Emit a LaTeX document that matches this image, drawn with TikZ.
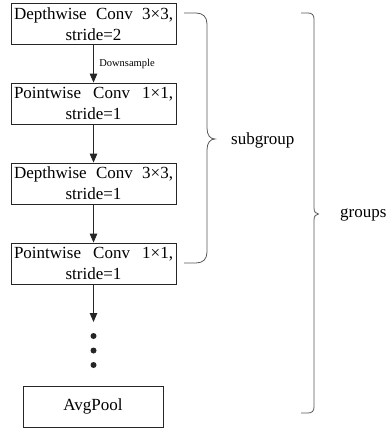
\documentclass[tikz,border=0pt]{standalone}
\usepackage{fontspec}
\setmainfont{Liberation Serif}
\usetikzlibrary{arrows.meta}
\tikzset{
  layer/.style={draw=black!85, line width=0.8pt, minimum width=165pt, minimum height=41pt,
    inner sep=0pt, align=center, font=\fontsize{17}{21}\selectfont},
  flow/.style={draw=black!85, line width=0.9pt, -{Triangle[length=9pt,width=7.5pt]}},
  bracket/.style={draw=black!65, line width=0.8pt},
  dot/.style={circle, fill=black!85, inner sep=0pt, minimum size=6pt},
  lbl/.style={font=\fontsize{17}{21}\selectfont, anchor=west, inner sep=0pt}
}
\newcommand{\spreadline}[1]{\makebox[159pt][s]{#1}}
\begin{document}
\begin{tikzpicture}[x=1pt,y=-1pt]
  \useasboundingbox (0,0) rectangle (387,430);

  % main column of layers
  \node[layer] (dw1) at (93.5,24) {\spreadline{Depthwise Conv 3×3,}\\stride=2};
  \node[layer] (pw1) at (93.5,103.5) {\spreadline{Pointwise Conv 1×1,}\\stride=1};
  \node[layer] (dw2) at (93.5,183.5) {\spreadline{Depthwise Conv 3×3,}\\stride=1};
  \node[layer] (pw2) at (93.5,263.5) {\spreadline{Pointwise Conv 1×1,}\\stride=1};
  \node[layer, minimum width=140pt] (pool) at (93,406.5) {AvgPool};

  % continuation dots
  \node[dot] (d1) at (93.5,336) {};
  \node[dot] (d2) at (93.5,350.5) {};
  \node[dot] (d3) at (93.5,365) {};
  \coordinate (more) at (93.5,322);

  % arrows between layers
  \draw[flow] (dw1) -- node[right, xshift=2pt, font=\fontsize{10.5}{12}\selectfont] {Downsample} (pw1);
  \draw[flow] (pw1) -- (dw2);
  \draw[flow] (dw2) -- (pw2);
  \draw[flow] (pw2.south) -- (more);

  % subgroup brace
  \coordinate (sgA) at (184,13);
  \coordinate (sgB) at (184,263);
  \coordinate (sgTip) at (215,139);
  \draw[bracket] (sgA) -- (196,13) .. controls (203,13) and (207,17) .. (207,24)
    -- (207,128) .. controls (207,135) and (210,139) .. (sgTip)
    .. controls (210,139) and (207,143) .. (207,150)
    -- (207,252) .. controls (207,259) and (203,263) .. (196,263) -- (sgB);
  \node[lbl] (sub) at (231,140) {subgroup};

  % groups brace
  \coordinate (gA) at (301,13);
  \coordinate (gB) at (301,413);
  \coordinate (gTip) at (318.5,214);
  \draw[bracket] (gA) -- (308,13) .. controls (312,13) and (314,15) .. (314,19)
    -- (314,208) .. controls (314,212) and (316,214) .. (gTip)
    .. controls (316,214) and (314,216) .. (314,220)
    -- (314,407) .. controls (314,411) and (312,413) .. (308,413) -- (gB);
  \node[lbl] (grp) at (340,215) {groups};
\end{tikzpicture}
\end{document}
